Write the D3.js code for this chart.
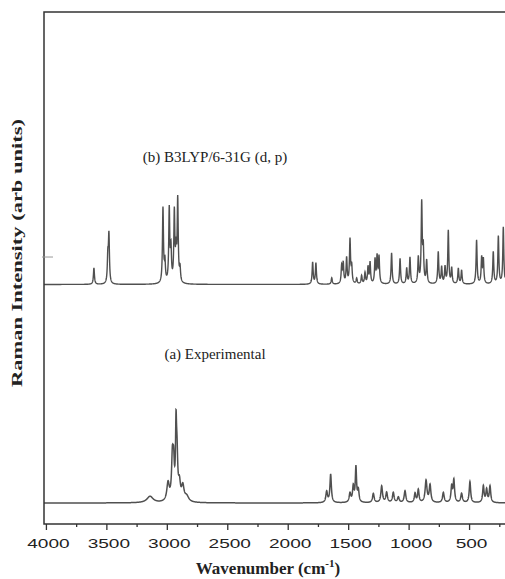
<!DOCTYPE html>
<html>
<head>
<meta charset="utf-8">
<script src="https://cdn.jsdelivr.net/npm/d3@7"></script>
<style>
  body { margin: 0; background: #fff; }
  svg { display: block; }
</style>
</head>
<body>
<div id="chart"></div>
<script>
// wavenumber ticks
const xTicks = [4000, 3500, 3000, 2500, 2000, 1500, 1000, 500];
const xMinorTicks = [3750, 3250, 2750, 2250, 1750, 1250, 750, 250];

// (b) B3LYP/6-31G (d, p) calculated peaks: position (cm-1), intensity
const calcPos = [3607, 3492, 3483,
  3036, 3020, 2984, 2970, 2942, 2928, 2914, 2895,
  1798, 1771, 1640, 1558, 1545, 1517, 1489, 1475,
  1434, 1393, 1365, 1340, 1323, 1282, 1265, 1249, 1145, 1075, 1020, 993,
  924, 896, 883, 855, 759, 731, 703, 676, 648, 593, 566,
  442, 400, 386, 304, 262, 221];
const calcInt = [0.18, 0.28, 0.52,
  0.82, 0.22, 0.80, 0.35, 0.76, 0.32, 0.90, 0.15,
  0.24, 0.23, 0.07, 0.19, 0.22, 0.28, 0.48, 0.18,
  0.06, 0.09, 0.12, 0.18, 0.23, 0.26, 0.29, 0.29, 0.34, 0.28, 0.17, 0.29,
  0.28, 0.87, 0.36, 0.25, 0.35, 0.18, 0.18, 0.58, 0.17, 0.17, 0.15,
  0.48, 0.28, 0.26, 0.35, 0.52, 0.62];
const calcWidth = 5;

// (a) experimental peaks: position, intensity, half width
const expPos = [3143, 2994, 2958, 2948, 2928, 2920, 2900, 2872, 2840,
  1682, 1649, 1489, 1462, 1440, 1420,
  1296, 1227, 1186, 1131, 1089, 1034, 951, 924, 860, 827,
  717, 648, 630, 566, 497, 386, 359, 331];
const expInt = [0.07, 0.20, 0.45, 0.35, 0.72, 0.45, 0.18, 0.16, 0.06,
  0.12, 0.31, 0.10, 0.17, 0.38, 0.13,
  0.10, 0.18, 0.11, 0.11, 0.06, 0.13, 0.10, 0.14, 0.24, 0.19,
  0.11, 0.17, 0.24, 0.10, 0.23, 0.18, 0.14, 0.18];
const expWidth = [30, 12, 8, 7, 5, 7, 10, 12, 20,
  8, 7, 8, 7, 6, 7,
  8, 8, 8, 8, 8, 8, 7, 7, 9, 8,
  8, 7, 7, 8, 7, 7, 7, 7];

const calcOffset = 2.62;
const expOffset = 0.23;

const width = 505, height = 579;
const margin = { top: 12, right: 0, bottom: 55, left: 44 };

const svg = d3.select("#chart").append("svg")
  .attr("width", width)
  .attr("height", height);

const x = d3.scaleLinear().domain([4020, 207]).range([margin.left, width - margin.right]);
const y = d3.scaleLinear().domain([0, 5.6]).range([height - margin.bottom, margin.top]);

function spectrum(pos, amp, w, offset) {
  const pts = [];
  for (let v = 4020; v >= 207; v -= 1) {
    let s = 0;
    for (let i = 0; i < pos.length; i++) {
      const hw = Array.isArray(w) ? w[i] : w;
      const d = (v - pos[i]) / hw;
      s += amp[i] / (1 + d * d);
    }
    pts.push([v, s + offset]);
  }
  return pts;
}

const line = d3.line().x(d => x(d[0])).y(d => y(d[1]));

svg.append("path")
  .datum(spectrum(calcPos, calcInt, calcWidth, calcOffset))
  .attr("fill", "none")
  .attr("stroke", "#505050")
  .attr("stroke-width", 1.4)
  .attr("d", line);

svg.append("path")
  .datum(spectrum(expPos, expInt, expWidth, expOffset))
  .attr("fill", "none")
  .attr("stroke", "#505050")
  .attr("stroke-width", 1.5)
  .attr("d", line);

// frame
const x0 = margin.left, y0 = height - margin.bottom;
svg.append("path")
  .attr("d", `M${width},${margin.top}H${x0}V${y0}H${width}`)
  .attr("fill", "none")
  .attr("stroke", "#333")
  .attr("stroke-width", 1.5);

// y tick between the panels
svg.append("line")
  .attr("x1", x0 - 2).attr("x2", x0 + 9)
  .attr("y1", y(2.92)).attr("y2", y(2.92))
  .attr("stroke", "#999").attr("stroke-width", 1);

// x axis ticks
const xAxis = svg.append("g").attr("transform", `translate(0,${y0})`);
xAxis.selectAll("line.major").data(xTicks).join("line")
  .attr("class", "major")
  .attr("x1", d => x(d)).attr("x2", d => x(d))
  .attr("y1", 0).attr("y2", 6)
  .attr("stroke", "#333").attr("stroke-width", 1.3);
xAxis.selectAll("line.minor").data(xMinorTicks).join("line")
  .attr("class", "minor")
  .attr("x1", d => x(d)).attr("x2", d => x(d))
  .attr("y1", 0).attr("y2", 3)
  .attr("stroke", "#333").attr("stroke-width", 1.3);
xAxis.selectAll("text").data(xTicks).join("text")
  .attr("x", d => x(d) + 2)
  .attr("y", 24)
  .attr("text-anchor", "middle")
  .attr("font-family", "Liberation Sans, Arial, sans-serif")
  .attr("font-size", 13)
  .attr("fill", "#222")
  .attr("textLength", d => String(d).length * 10.6)
  .attr("lengthAdjust", "spacingAndGlyphs")
  .text(d => d);

// axis titles
const xt = svg.append("text")
  .attr("x", 268)
  .attr("y", 574)
  .attr("text-anchor", "middle")
  .attr("font-family", "Liberation Serif, Times New Roman, serif")
  .attr("font-weight", "bold")
  .attr("font-size", 17)
  .attr("fill", "#222");
xt.append("tspan").text("Wavenumber (cm");
xt.append("tspan").attr("font-size", 11).attr("dy", -7).text("-1");
xt.append("tspan").attr("dy", 7).text(")");

svg.append("text")
  .attr("transform", "translate(22,253) rotate(-90)")
  .attr("text-anchor", "middle")
  .attr("font-family", "Liberation Serif, Times New Roman, serif")
  .attr("font-weight", "bold")
  .attr("font-size", 15)
  .attr("fill", "#222")
  .attr("textLength", 268)
  .attr("lengthAdjust", "spacingAndGlyphs")
  .text("Raman Intensity (arb units)");

// panel labels
svg.append("text")
  .attr("x", 215).attr("y", 162)
  .attr("text-anchor", "middle")
  .attr("font-family", "Liberation Serif, Times New Roman, serif")
  .attr("font-size", 15)
  .attr("fill", "#222")
  .text("(b) B3LYP/6-31G (d, p)");

svg.append("text")
  .attr("x", 215).attr("y", 359)
  .attr("text-anchor", "middle")
  .attr("font-family", "Liberation Serif, Times New Roman, serif")
  .attr("font-size", 15)
  .attr("fill", "#222")
  .text("(a) Experimental");
</script>
</body>
</html>
